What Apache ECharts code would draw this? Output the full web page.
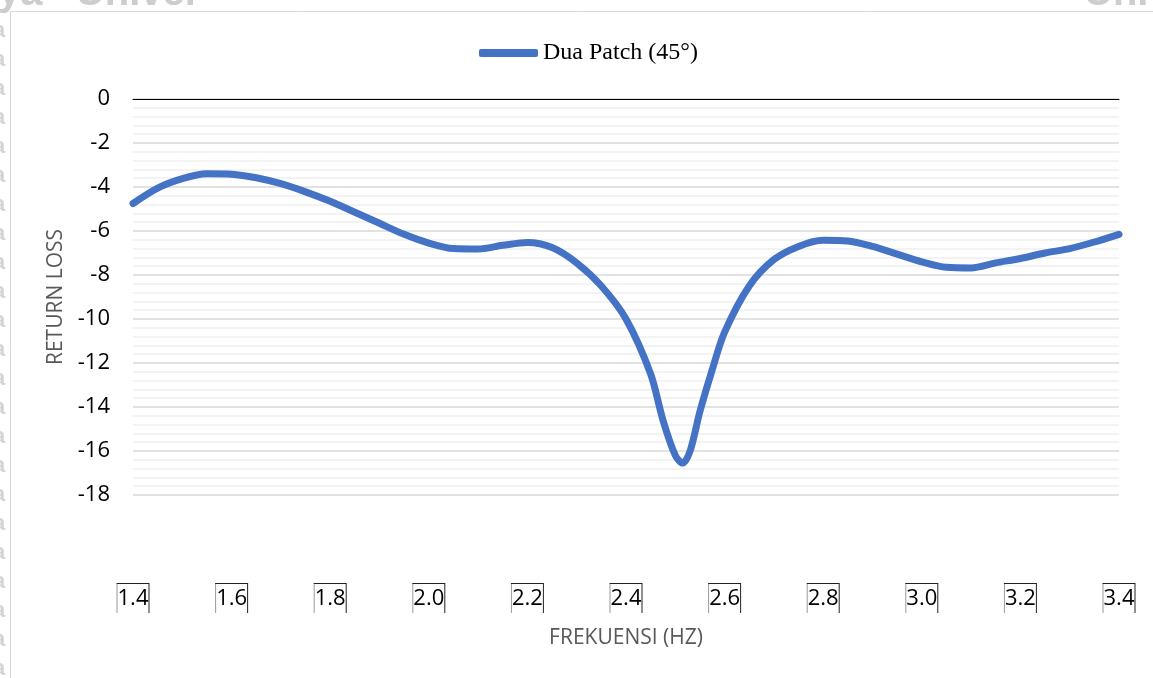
<!DOCTYPE html>
<html>
<head>
<meta charset="utf-8">
<script src="https://cdn.jsdelivr.net/npm/echarts@6/dist/echarts.min.js"></script>
<style>html,body{margin:0;padding:0;background:#fff;}#c{width:1153px;height:678px;}</style>
</head>
<body>
<div id="c"></div>
<script>
// ---- data ----
const seriesName = 'Dua Patch (45°)';
const freq = [1.40, 1.45, 1.50, 1.55, 1.60, 1.65, 1.70, 1.75, 1.80, 1.85, 1.90, 1.95, 2.00, 2.05, 2.10, 2.15, 2.20, 2.25, 2.30, 2.35, 2.40, 2.45, 2.475, 2.50, 2.515, 2.53, 2.55, 2.575, 2.60, 2.65, 2.70, 2.75, 2.80, 2.85, 2.90, 2.95, 3.00, 3.05, 3.10, 3.15, 3.20, 3.25, 3.30, 3.35, 3.40];
const returnLoss = [-4.75, -4.05, -3.62, -3.4, -3.42, -3.58, -3.85, -4.22, -4.65, -5.15, -5.65, -6.15, -6.55, -6.8, -6.82, -6.65, -6.52, -6.75, -7.45, -8.5, -10.0, -12.5, -14.6, -16.2, -16.55, -16.0, -14.2, -12.3, -10.6, -8.5, -7.3, -6.7, -6.42, -6.45, -6.7, -7.05, -7.4, -7.65, -7.68, -7.45, -7.25, -7.0, -6.8, -6.5, -6.15];
const xTickLabels = ['1.4','1.6','1.8','2.0','2.2','2.4','2.6','2.8','3.0','3.2','3.4'];
const yTickLabels = ['0','-2','-4','-6','-8','-10','-12','-14','-16','-18'];

const points = freq.map((f, i) => [f, returnLoss[i]]);
const chart = echarts.init(document.getElementById('c'), null, {renderer: 'canvas'});

// background watermark (decoration only, outside the chart frame)
const wm = [
  {type: 'text', left: -2, top: -26, z: -3, silent: true,
   style: {text: 'ya   Univer', fill: '#cdcdcd', font: 'bold 40px "Liberation Sans"'}},
  {type: 'text', left: 1084, top: -26, z: -3, silent: true,
   style: {text: 'Unive', fill: '#cdcdcd', font: 'bold 40px "Liberation Sans"'}}
];
for (let y = 20; y < 678; y += 29) {
  wm.push({type: 'text', left: -7, top: y, z: -3, silent: true,
    style: {text: 'a', fill: '#d4d4d4', font: 'bold 22px "Liberation Sans"'}});
}

chart.setOption({
  backgroundColor: '#fff',
  animation: false,
  graphic: wm.concat([
    {type: 'rect', z: -2, silent: true,
     shape: {x: 10.5, y: 11.5, width: 1200, height: 700},
     style: {fill: '#fff', stroke: '#d9d9d9', lineWidth: 1}}
  ]),
  legend: {
    left: 474, top: 36,
    itemWidth: 59, itemHeight: 8, icon: 'roundRect',
    textStyle: {fontFamily: '"Liberation Serif", serif', fontSize: 24, color: '#000'},
    data: [seriesName]
  },
  grid: {left: 133, right: 34, top: 99, bottom: 183, containLabel: false},
  xAxis: [{
    type: 'value', min: 1.4, max: 3.4, interval: 0.2,
    axisLine: {show: false, onZero: false},
    axisTick: {show: false},
    splitLine: {show: false},
    name: 'FREKUENSI (HZ)', nameLocation: 'middle', nameGap: 133,
    nameTextStyle: {fontFamily: '"Open Sans"', fontSize: 21, color: '#595959'},
    axisLabel: {
      margin: 88,
      formatter: function (v) {
        const idx = Math.round((v - 1.4) / 0.2);
        const t = xTickLabels[idx] !== undefined ? xTickLabels[idx] : v.toFixed(1);
        return '{t| }\n{l| }{v|' + t + '}{r| }';
      },
      rich: {
        t: {width: 33, height: 1, lineHeight: 1, fontSize: 1, backgroundColor: '#222'},
        l: {width: 1, height: 29, fontSize: 1, backgroundColor: '#9a9a9a'},
        r: {width: 1, height: 29, fontSize: 1, backgroundColor: '#222'},
        v: {width: 31, height: 29, lineHeight: 29, align: 'center', fontFamily: '"Open Sans"', fontSize: 22, color: '#000'}
      }
    }
  }, {
    type: 'value', min: 1.4, max: 3.4, position: 'top',
    axisLine: {show: true, onZero: false, lineStyle: {color: '#000', width: 1}},
    axisTick: {show: false}, axisLabel: {show: false}, splitLine: {show: false}
  }],
  yAxis: {
    type: 'value', min: -18, max: 0, interval: 2,
    axisLine: {show: false}, axisTick: {show: false},
    axisLabel: {
      margin: 23, fontFamily: '"Open Sans"', fontSize: 22, color: '#000',
      formatter: function (v) {
        const idx = Math.round(-v / 2);
        return yTickLabels[idx] !== undefined ? yTickLabels[idx] : String(v);
      }
    },
    splitLine: {show: true, lineStyle: {color: '#d9d9d9', width: 1.5}},
    minorTick: {show: false, splitNumber: 5},
    minorSplitLine: {show: true, lineStyle: {color: '#f0f0f0', width: 1.5}},
    name: 'RETURN LOSS', nameLocation: 'middle', nameGap: 62,
    nameTextStyle: {fontFamily: '"Open Sans"', fontSize: 21, color: '#595959'}
  },
  series: [{
    name: seriesName, type: 'line', data: points,
    smooth: 0.3, showSymbol: false, symbol: 'none',
    lineStyle: {color: '#4472C4', width: 7, cap: 'round', join: 'round'},
    itemStyle: {color: '#4472C4'},
    z: 5
  }]
});
</script>
</body>
</html>
